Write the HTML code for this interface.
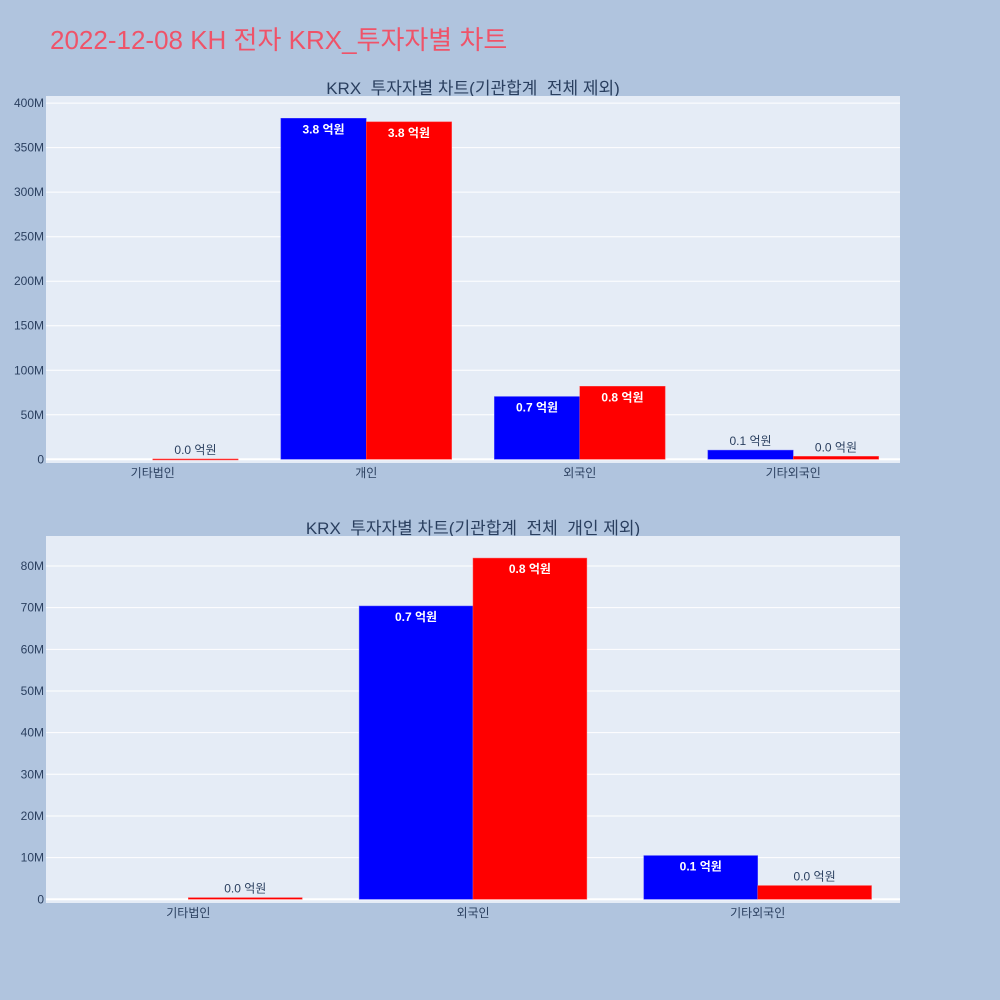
<!DOCTYPE html>
<html><head><meta charset="utf-8"><style>
body{margin:0;background:#b0c4de;}
svg{display:block;font-family:"Liberation Sans","Noto Sans CJK KR",sans-serif;}
</style></head><body>
<svg id="root" width="1000" height="1000" viewBox="0 0 1000 1000">
<rect width="1000" height="1000" fill="#b0c4de"/>
<text x="50" y="49" font-size="26" fill="#ef5369">2022-12-08 KH 전자 KRX_투자자별 차트</text>
<g id="c1"></g>
<g id="c2"></g>
</svg>
<script>
const cats1 = ["기타법인","개인","외국인","기타외국인"];
const blue1 = [0, 383e6, 70.5e6, 10.3e6];
const red1 = [0.4e6, 379e6, 82e6, 3.3e6];
const ticks1 = [0,50e6,100e6,150e6,200e6,250e6,300e6,350e6,400e6];
const tickLabels1 = ["0","50M","100M","150M","200M","250M","300M","350M","400M"];
const cats2 = ["기타법인","외국인","기타외국인"];
const blue2 = [0, 70.4e6, 10.5e6];
const red2 = [0.4e6, 81.9e6, 3.3e6];
const ticks2 = [0,10e6,20e6,30e6,40e6,50e6,60e6,70e6,80e6];
const tickLabels2 = ["0","10M","20M","30M","40M","50M","60M","70M","80M"];
const NS="http://www.w3.org/2000/svg";
function mk(tag,attrs,parent){const e=document.createElementNS(NS,tag);for(const k in attrs)e.setAttribute(k,attrs[k]);parent.appendChild(e);return e;}
function draw(g,title,cats,blue,red,ticks,tl,top,bottom,y0,ymax){
  const L=46,R=900;
  const y=v=>y0-(v/ymax)*(y0-top-0);
  const t=mk('text',{x:(L+R)/2,y:top-2,'font-size':17,fill:'#2a3f5f','text-anchor':'middle'},g);
  t.textContent=title;
  const bg=mk('rect',{x:L,y:top,width:R-L,height:bottom-top,fill:'#e5ecf6'},g);
  
  ticks.forEach((v,i)=>{
    const gl=mk('line',{x1:L,x2:R,y1:y(v),y2:y(v),stroke:'#fff','stroke-width':i==0?2:1},g);
    
    const tx=mk('text',{x:L-2,y:y(v)+4,'font-size':12,fill:'#2a3f5f','text-anchor':'end'},g);
    tx.textContent=tl[i];
  });
  const cw=(R-L)/cats.length, bw=cw*0.8/2;
  cats.forEach((c,i)=>{
    const cx=L+cw*(i+0.5);
    const xl=mk('text',{x:cx,y:bottom+14,'font-size':12,fill:'#2a3f5f','text-anchor':'middle'},g);
    xl.textContent=c;
    [[blue,'#0000ff',cx-bw,'bar-blue'],[red,'#ff0000',cx,'bar-red']].forEach(([arr,col,x0,nm])=>{
      const v=arr[i]; if(v<=0) return;
      const yt=y(v),h=y0-yt;
      const r=mk('rect',{x:x0,y:yt,width:bw,height:Math.max(h,1),fill:col,stroke:col=='#0000ff'?'#5050ff':'#ff5050','stroke-width':0.5},g);
      
      const lab=(v/1e8).toFixed(1)+' 억원';
      const inside=h>=22;
      const tx=mk('text',{x:x0+bw/2,y:inside?yt+15:yt-5,'font-size':12,'text-anchor':'middle',fill:inside?'#fff':'#2a3f5f','font-weight':inside?'bold':'normal'},g);
      tx.textContent=lab;
    });
  });
}
draw(document.getElementById('c1'),'KRX_투자자별 차트(기관합계_전체 제외)',cats1,blue1,red1,ticks1,tickLabels1,96,463,459.3,408e6);
draw(document.getElementById('c2'),'KRX_투자자별 차트(기관합계_전체_개인 제외)',cats2,blue2,red2,ticks2,tickLabels2,536,903,899.3,87.2e6);
</script>
</body></html>
